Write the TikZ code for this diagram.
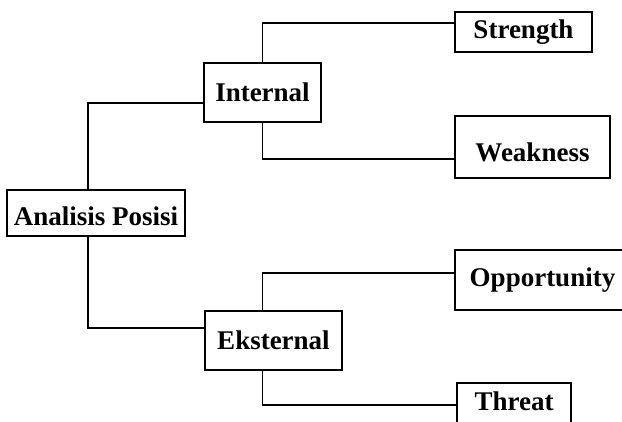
\documentclass[tikz,border=0pt]{standalone}
\usepackage{fontspec}
\setmainfont{Liberation Serif}
\usepackage{tikz}
\tikzstyle{box}=[draw=black, line width=1.5pt, inner sep=0pt, font=\bfseries\fontsize{27}{31}\selectfont]
\tikzstyle{link}=[line width=1.5pt]

\begin{document}
\begin{tikzpicture}[x=1pt, y=-1pt]
    \clip (0,0) rectangle (622,422);
    % Root box on the left
    \node[box, minimum width=178pt, minimum height=46pt, text height=26pt] (ana) at (96,213) {Analisis Posisi};

    % Middle level
    \node[box, minimum width=117pt, minimum height=59pt] (int) at (262.5,92.5) {Internal};
    \node[box, minimum width=137pt, minimum height=59pt] (eks) at (273.5,340.5) {Eksternal};

    % Right column
    \node[box, minimum width=137pt, minimum height=40pt] (str) at (523.5,32) {Strength};
    \node[box, minimum width=155pt, minimum height=62pt, text height=30pt] (weak) at (532.5,147) {Weakness};
    \node[box, minimum width=175pt, minimum height=60pt] (opp) at (542.5,280) {Opportunity};
    \node[box, minimum width=114pt, minimum height=44pt, text depth=8pt] (thr) at (514,405) {Threat};

    % Connectors
    \draw[link] ([xshift=-8pt]ana.north) |- ([yshift=-10.5pt]int.west);
    \draw[link] ([xshift=-8pt]ana.south) |- ([yshift=12.5pt]eks.west);
    \draw[link] (int.north) |- ([yshift=9pt]str.west);
    \draw[link] (int.south) |- ([yshift=-12pt]weak.west);
    \draw[link] ([xshift=-11pt]eks.north) |- ([yshift=7pt]opp.west);
    \draw[link] ([xshift=-11pt]eks.south) |- (thr.west);
\end{tikzpicture}
\end{document}
